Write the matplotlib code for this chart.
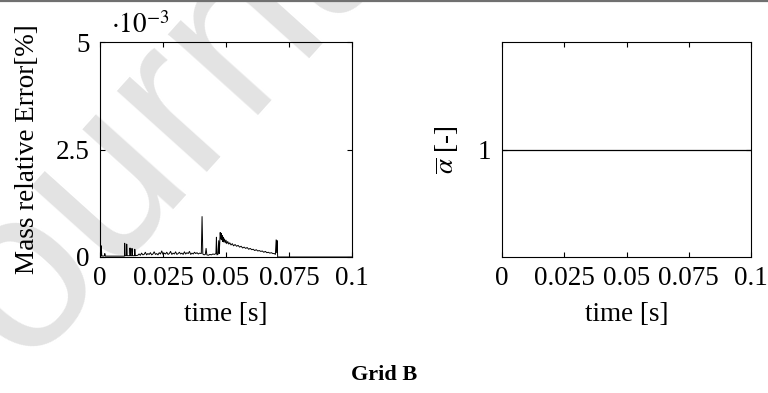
import matplotlib
matplotlib.use("Agg")
import matplotlib.pyplot as plt
from matplotlib.lines import Line2D

plt.rcParams['font.family'] = ['Liberation Serif', 'DejaVu Serif']
plt.rcParams['mathtext.fontset'] = 'stix'

# mass relative error (values in 1e-3 %)
time_err = [0.0000, 0.0004, 0.0005, 0.0007, 0.0012, 0.0018, 0.0019, 0.0021, 0.0040, 0.0060,
            0.0080, 0.0097, 0.0098, 0.0100, 0.0105, 0.0106, 0.0108, 0.0118, 0.0119, 0.0121,
            0.0126, 0.0127, 0.0129, 0.0137, 0.0138, 0.0140, 0.0150,
            0.0155, 0.0160, 0.0165, 0.0170, 0.0175, 0.0180, 0.0185, 0.0190, 0.0195, 0.0200,
            0.0205, 0.0210, 0.0215, 0.0220, 0.0225, 0.0230, 0.0235, 0.0240, 0.0245, 0.0250,
            0.0255, 0.0260, 0.0265, 0.0270, 0.0275, 0.0280, 0.0285, 0.0290, 0.0295, 0.0300,
            0.0305, 0.0310, 0.0315, 0.0320, 0.0325, 0.0330, 0.0335, 0.0340, 0.0345, 0.0350,
            0.0355, 0.0360, 0.0365, 0.0370, 0.0375, 0.0380, 0.0385, 0.0390, 0.0395, 0.0402,
            0.0405, 0.0408, 0.0413, 0.0418, 0.0421, 0.0424, 0.0430, 0.0436, 0.0442, 0.0448,
            0.0454, 0.0460, 0.0462, 0.0464, 0.0468, 0.0471, 0.0473, 0.0475, 0.0477, 0.0479,
            0.0481, 0.0483, 0.0485, 0.0487, 0.0489, 0.0491, 0.0494, 0.0497, 0.0500, 0.0503,
            0.0507, 0.0511, 0.0515, 0.0520, 0.0525, 0.0530, 0.0536, 0.0542, 0.0548, 0.0554,
            0.0560, 0.0566, 0.0572, 0.0578, 0.0584, 0.0590, 0.0596, 0.0602, 0.0608, 0.0614,
            0.0620, 0.0626, 0.0632, 0.0638, 0.0644, 0.0650, 0.0656, 0.0662, 0.0668, 0.0674,
            0.0680, 0.0686, 0.0692, 0.0696, 0.0699, 0.0701, 0.0703, 0.0705, 0.1000]
mass_err = [0.02, 0.02, 0.26, 0.03, 0.02, 0.03, 0.08, 0.02, 0.02, 0.02,
            0.02, 0.02, 0.32, 0.03, 0.03, 0.30, 0.03, 0.03, 0.21, 0.03,
            0.03, 0.20, 0.03, 0.03, 0.18, 0.03, 0.04,
            0.07, 0.04, 0.09, 0.05, 0.06, 0.11, 0.05, 0.08, 0.06, 0.10,
            0.05, 0.07, 0.12, 0.06, 0.08, 0.05, 0.10, 0.07, 0.14, 0.06,
            0.09, 0.07, 0.11, 0.06, 0.08, 0.13, 0.06, 0.09, 0.07, 0.12,
            0.06, 0.08, 0.11, 0.07, 0.09, 0.06, 0.12, 0.07, 0.10, 0.08,
            0.13, 0.06, 0.09, 0.07, 0.11, 0.08, 0.10, 0.07, 0.09, 0.08,
            0.94, 0.07, 0.05, 0.06, 0.20, 0.05, 0.04, 0.06, 0.05, 0.07,
            0.06, 0.08, 0.46, 0.05, 0.06, 0.38, 0.08, 0.30, 0.57, 0.42,
            0.55, 0.40, 0.50, 0.36, 0.46, 0.35, 0.42, 0.33, 0.39, 0.31,
            0.36, 0.30, 0.33, 0.28, 0.31, 0.26, 0.29, 0.25, 0.27, 0.23,
            0.25, 0.21, 0.23, 0.20, 0.22, 0.18, 0.20, 0.17, 0.18, 0.15,
            0.17, 0.14, 0.15, 0.13, 0.14, 0.11, 0.13, 0.10, 0.11, 0.09,
            0.10, 0.08, 0.08, 0.06, 0.40, 0.10, 0.38, 0.00, 0.00]

# mean alpha
time_alpha = [0.0, 0.1]
alpha_mean = [1.0, 1.0]

x_ticks = [0, 0.025, 0.05, 0.075, 0.1]
x_labels = ['0', '0.025', '0.05', '0.075', '0.1']

fs = 19.5
fig = plt.figure(figsize=(7.68, 3.93), dpi=100)

# watermark behind everything
fig.text(-0.065, -0.165, 'Journal Pre-proof', rotation=48, rotation_mode='anchor',
         ha='left', va='baseline', fontsize=165, color='#e3e3e3',
         family='Liberation Sans', zorder=-5)
fig.add_artist(Line2D([0, 1], [0.998, 0.998], color='#707070', lw=1.6))

ax1 = fig.add_axes([100/768, 136/393, 252/768, 215/393])
ax2 = fig.add_axes([502/768, 136/393, 249/768, 215/393])

ax1.plot(time_err, mass_err, color='black', lw=0.7)
ax1.set_xlim(0, 0.1)
ax1.set_ylim(0, 5)
ax1.set_yticks([0, 2.5, 5])
ax1.set_yticklabels(['0', '2.5', '5'])
ax1.set_ylabel('Mass relative Error[%]', fontsize=fs)
ax1.yaxis.set_label_coords(-0.24, 0.5)
ax1.text(0.045, 1.015, r'$\cdot10^{-3}$', transform=ax1.transAxes, fontsize=fs,
         ha='left', va='bottom')

ax2.plot(time_alpha, alpha_mean, color='black', lw=0.9)
ax2.set_xlim(0, 0.1)
ax2.set_ylim(0.5, 1.5)
ax2.set_yticks([1])
ax2.set_yticklabels(['1'])
ax2.set_ylabel(r'$\overline{\alpha}$ [-]', fontsize=fs)
ax2.yaxis.set_label_coords(-0.17, 0.5)

for ax in (ax1, ax2):
    ax.set_facecolor('none')
    ax.set_xticks(x_ticks)
    ax.set_xticklabels(x_labels)
    ax.set_xlabel('time [s]', fontsize=fs)
    ax.xaxis.set_label_coords(0.5, -0.21)
    ax.tick_params(direction='in', top=True, right=True, length=3.5, width=0.8,
                   labelsize=fs)
    ax.tick_params(axis='y', pad=7.5)
    ax.tick_params(axis='x', pad=6.5)
    for s in ax.spines.values():
        s.set_linewidth(0.8)

fig.text(0.5, 1 - 375/393, 'Grid B', ha='center', va='center', fontsize=16,
         fontweight='bold')

fig.savefig('out.png', dpi=100)
